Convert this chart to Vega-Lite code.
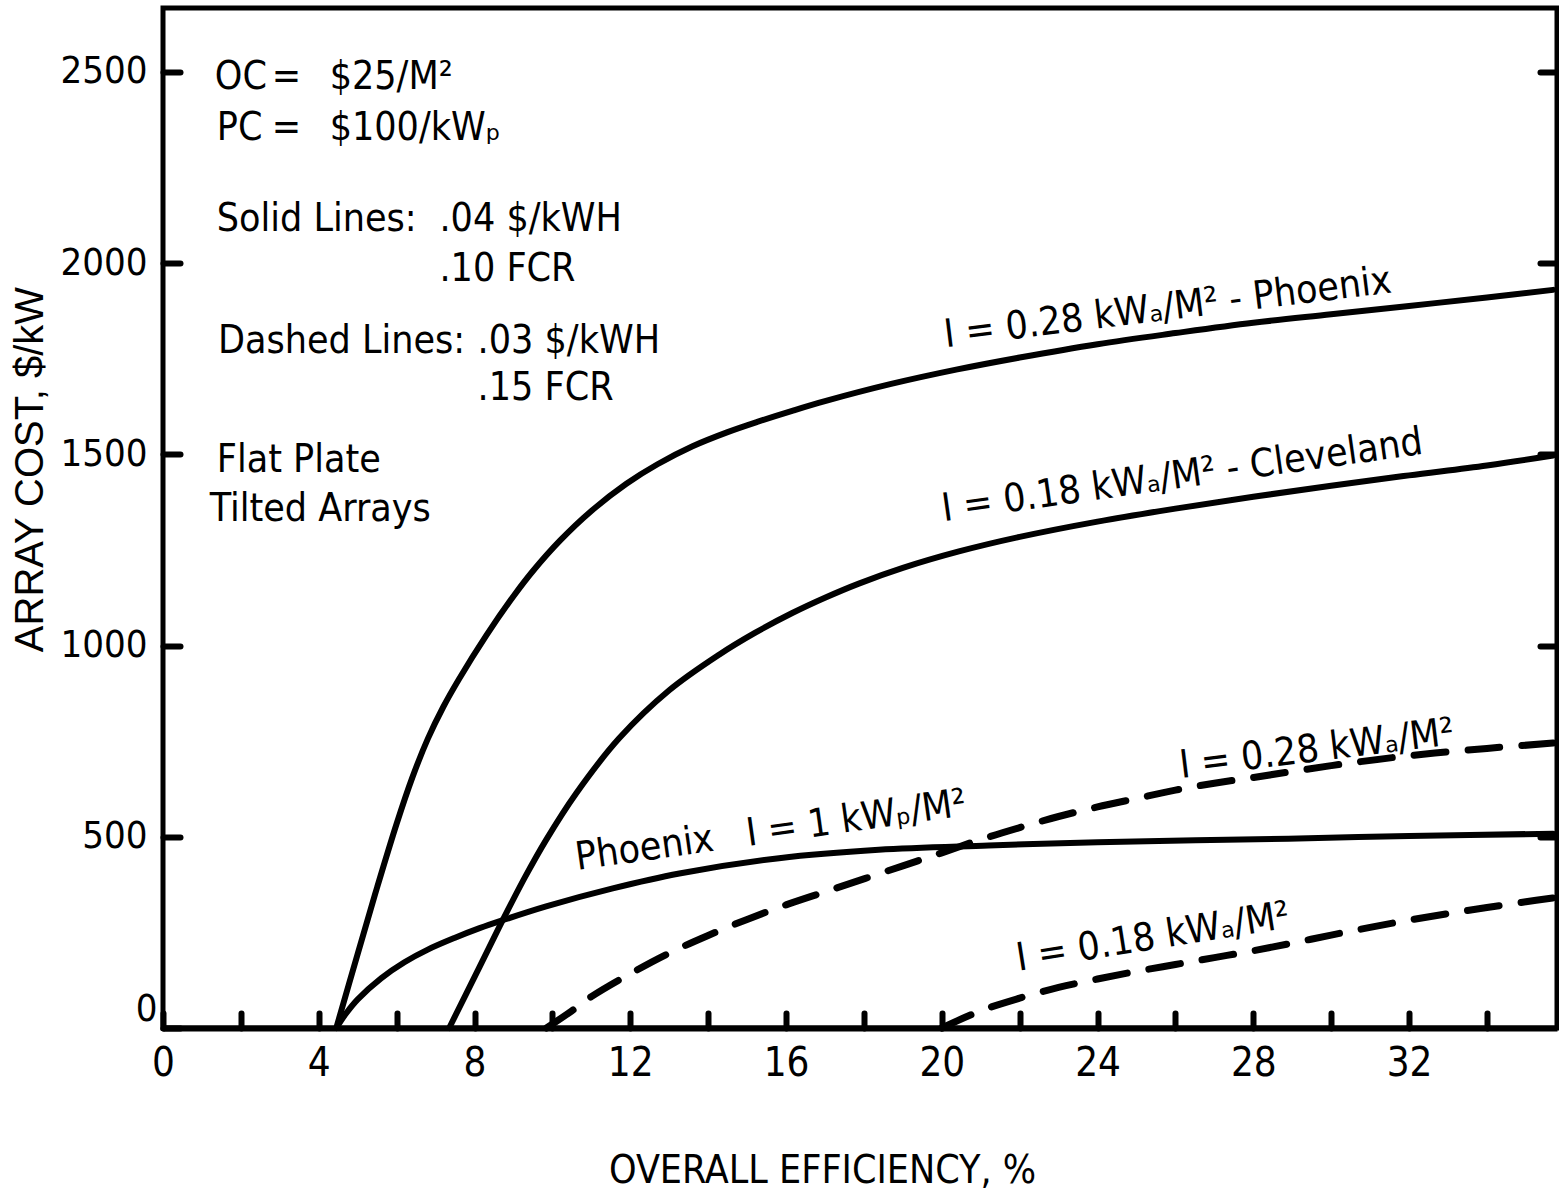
{
  "$schema": "https://vega.github.io/schema/vega-lite/v6.json",
  "width": 1394,
  "height": 1020,
  "autosize": {"type": "none"},
  "padding": {"left": 163, "top": 8, "right": 2, "bottom": 167},
  "background": "white",
  "config": {
    "view": {"stroke": "black", "strokeWidth": 5},
    "font": "DejaVu Sans Condensed, DejaVu Sans, sans-serif",
    "axis": {"grid": false, "labelColor": "black", "titleColor": "black", "tickColor": "black", "domainColor": "black"}
  },
  "datasets": {
    "curves": [
      {"series": "Phoenix 0.28", "rate": 0.04, "x": 4.45, "y": 0},
      {"series": "Phoenix 0.28", "rate": 0.04, "x": 5.0, "y": 194},
      {"series": "Phoenix 0.28", "rate": 0.04, "x": 5.5, "y": 368},
      {"series": "Phoenix 0.28", "rate": 0.04, "x": 6.0, "y": 534},
      {"series": "Phoenix 0.28", "rate": 0.04, "x": 6.4, "y": 654},
      {"series": "Phoenix 0.28", "rate": 0.04, "x": 6.8, "y": 756},
      {"series": "Phoenix 0.28", "rate": 0.04, "x": 7.2, "y": 840},
      {"series": "Phoenix 0.28", "rate": 0.04, "x": 7.6, "y": 912},
      {"series": "Phoenix 0.28", "rate": 0.04, "x": 8.3, "y": 1026},
      {"series": "Phoenix 0.28", "rate": 0.04, "x": 9.0, "y": 1129},
      {"series": "Phoenix 0.28", "rate": 0.04, "x": 9.5, "y": 1195},
      {"series": "Phoenix 0.28", "rate": 0.04, "x": 10.2, "y": 1275},
      {"series": "Phoenix 0.28", "rate": 0.04, "x": 11.0, "y": 1352},
      {"series": "Phoenix 0.28", "rate": 0.04, "x": 11.9, "y": 1423},
      {"series": "Phoenix 0.28", "rate": 0.04, "x": 12.7, "y": 1474},
      {"series": "Phoenix 0.28", "rate": 0.04, "x": 13.6, "y": 1521},
      {"series": "Phoenix 0.28", "rate": 0.04, "x": 14.5, "y": 1558},
      {"series": "Phoenix 0.28", "rate": 0.04, "x": 15.3, "y": 1586},
      {"series": "Phoenix 0.28", "rate": 0.04, "x": 16.2, "y": 1615},
      {"series": "Phoenix 0.28", "rate": 0.04, "x": 17.0, "y": 1639},
      {"series": "Phoenix 0.28", "rate": 0.04, "x": 18.7, "y": 1684},
      {"series": "Phoenix 0.28", "rate": 0.04, "x": 20.4, "y": 1722},
      {"series": "Phoenix 0.28", "rate": 0.04, "x": 22.0, "y": 1753},
      {"series": "Phoenix 0.28", "rate": 0.04, "x": 24.0, "y": 1788},
      {"series": "Phoenix 0.28", "rate": 0.04, "x": 26.0, "y": 1817},
      {"series": "Phoenix 0.28", "rate": 0.04, "x": 28.0, "y": 1844},
      {"series": "Phoenix 0.28", "rate": 0.04, "x": 30.0, "y": 1866},
      {"series": "Phoenix 0.28", "rate": 0.04, "x": 32.0, "y": 1888},
      {"series": "Phoenix 0.28", "rate": 0.04, "x": 34.0, "y": 1910},
      {"series": "Phoenix 0.28", "rate": 0.04, "x": 35.7, "y": 1930},

      {"series": "Cleveland 0.18", "rate": 0.04, "x": 7.35, "y": 0},
      {"series": "Cleveland 0.18", "rate": 0.04, "x": 8.13, "y": 160},
      {"series": "Cleveland 0.18", "rate": 0.04, "x": 8.73, "y": 283},
      {"series": "Cleveland 0.18", "rate": 0.04, "x": 9.3, "y": 395},
      {"series": "Cleveland 0.18", "rate": 0.04, "x": 9.84, "y": 492},
      {"series": "Cleveland 0.18", "rate": 0.04, "x": 10.6, "y": 612},
      {"series": "Cleveland 0.18", "rate": 0.04, "x": 11.72, "y": 758},
      {"series": "Cleveland 0.18", "rate": 0.04, "x": 13.0, "y": 883},
      {"series": "Cleveland 0.18", "rate": 0.04, "x": 14.28, "y": 976},
      {"series": "Cleveland 0.18", "rate": 0.04, "x": 15.2, "y": 1033},
      {"series": "Cleveland 0.18", "rate": 0.04, "x": 16.16, "y": 1085},
      {"series": "Cleveland 0.18", "rate": 0.04, "x": 17.0, "y": 1125},
      {"series": "Cleveland 0.18", "rate": 0.04, "x": 17.87, "y": 1162},
      {"series": "Cleveland 0.18", "rate": 0.04, "x": 19.0, "y": 1203},
      {"series": "Cleveland 0.18", "rate": 0.04, "x": 20.44, "y": 1246},
      {"series": "Cleveland 0.18", "rate": 0.04, "x": 22.0, "y": 1284},
      {"series": "Cleveland 0.18", "rate": 0.04, "x": 24.0, "y": 1324},
      {"series": "Cleveland 0.18", "rate": 0.04, "x": 26.0, "y": 1358},
      {"series": "Cleveland 0.18", "rate": 0.04, "x": 28.0, "y": 1389},
      {"series": "Cleveland 0.18", "rate": 0.04, "x": 30.0, "y": 1418},
      {"series": "Cleveland 0.18", "rate": 0.04, "x": 32.0, "y": 1445},
      {"series": "Cleveland 0.18", "rate": 0.04, "x": 34.0, "y": 1471},
      {"series": "Cleveland 0.18", "rate": 0.04, "x": 35.7, "y": 1497},

      {"series": "Phoenix 1 peak", "rate": 0.04, "x": 4.45, "y": 0},
      {"series": "Phoenix 1 peak", "rate": 0.04, "x": 4.7, "y": 38},
      {"series": "Phoenix 1 peak", "rate": 0.04, "x": 5.0, "y": 75},
      {"series": "Phoenix 1 peak", "rate": 0.04, "x": 5.6, "y": 130},
      {"series": "Phoenix 1 peak", "rate": 0.04, "x": 6.2, "y": 172},
      {"series": "Phoenix 1 peak", "rate": 0.04, "x": 6.8, "y": 205},
      {"series": "Phoenix 1 peak", "rate": 0.04, "x": 7.5, "y": 236},
      {"series": "Phoenix 1 peak", "rate": 0.04, "x": 8.13, "y": 261},
      {"series": "Phoenix 1 peak", "rate": 0.04, "x": 8.73, "y": 282},
      {"series": "Phoenix 1 peak", "rate": 0.04, "x": 9.84, "y": 318},
      {"series": "Phoenix 1 peak", "rate": 0.04, "x": 11.55, "y": 365},
      {"series": "Phoenix 1 peak", "rate": 0.04, "x": 13.26, "y": 404},
      {"series": "Phoenix 1 peak", "rate": 0.04, "x": 15.82, "y": 444},
      {"series": "Phoenix 1 peak", "rate": 0.04, "x": 18.38, "y": 466},
      {"series": "Phoenix 1 peak", "rate": 0.04, "x": 21.2, "y": 477},
      {"series": "Phoenix 1 peak", "rate": 0.04, "x": 24.0, "y": 486},
      {"series": "Phoenix 1 peak", "rate": 0.04, "x": 28.9, "y": 495},
      {"series": "Phoenix 1 peak", "rate": 0.04, "x": 32.0, "y": 502},
      {"series": "Phoenix 1 peak", "rate": 0.04, "x": 35.7, "y": 508},

      {"series": "Phoenix 0.28", "rate": 0.03, "x": 9.85, "y": 0},
      {"series": "Phoenix 0.28", "rate": 0.03, "x": 10.5, "y": 45},
      {"series": "Phoenix 0.28", "rate": 0.03, "x": 11.0, "y": 82},
      {"series": "Phoenix 0.28", "rate": 0.03, "x": 12.0, "y": 142},
      {"series": "Phoenix 0.28", "rate": 0.03, "x": 13.0, "y": 196},
      {"series": "Phoenix 0.28", "rate": 0.03, "x": 14.0, "y": 242},
      {"series": "Phoenix 0.28", "rate": 0.03, "x": 15.0, "y": 284},
      {"series": "Phoenix 0.28", "rate": 0.03, "x": 16.0, "y": 322},
      {"series": "Phoenix 0.28", "rate": 0.03, "x": 17.0, "y": 356},
      {"series": "Phoenix 0.28", "rate": 0.03, "x": 18.0, "y": 390},
      {"series": "Phoenix 0.28", "rate": 0.03, "x": 19.0, "y": 424},
      {"series": "Phoenix 0.28", "rate": 0.03, "x": 20.0, "y": 458},
      {"series": "Phoenix 0.28", "rate": 0.03, "x": 21.0, "y": 493},
      {"series": "Phoenix 0.28", "rate": 0.03, "x": 22.0, "y": 524},
      {"series": "Phoenix 0.28", "rate": 0.03, "x": 23.0, "y": 553},
      {"series": "Phoenix 0.28", "rate": 0.03, "x": 24.0, "y": 578},
      {"series": "Phoenix 0.28", "rate": 0.03, "x": 25.0, "y": 600},
      {"series": "Phoenix 0.28", "rate": 0.03, "x": 26.0, "y": 622},
      {"series": "Phoenix 0.28", "rate": 0.03, "x": 27.0, "y": 640},
      {"series": "Phoenix 0.28", "rate": 0.03, "x": 28.0, "y": 655},
      {"series": "Phoenix 0.28", "rate": 0.03, "x": 30.0, "y": 686},
      {"series": "Phoenix 0.28", "rate": 0.03, "x": 32.0, "y": 712},
      {"series": "Phoenix 0.28", "rate": 0.03, "x": 34.0, "y": 731},
      {"series": "Phoenix 0.28", "rate": 0.03, "x": 35.7, "y": 745},

      {"series": "Cleveland 0.18", "rate": 0.03, "x": 20.0, "y": 0},
      {"series": "Cleveland 0.18", "rate": 0.03, "x": 21.0, "y": 45},
      {"series": "Cleveland 0.18", "rate": 0.03, "x": 22.0, "y": 78},
      {"series": "Cleveland 0.18", "rate": 0.03, "x": 23.0, "y": 106},
      {"series": "Cleveland 0.18", "rate": 0.03, "x": 24.0, "y": 128},
      {"series": "Cleveland 0.18", "rate": 0.03, "x": 25.0, "y": 148},
      {"series": "Cleveland 0.18", "rate": 0.03, "x": 26.0, "y": 166},
      {"series": "Cleveland 0.18", "rate": 0.03, "x": 27.0, "y": 184},
      {"series": "Cleveland 0.18", "rate": 0.03, "x": 28.0, "y": 202},
      {"series": "Cleveland 0.18", "rate": 0.03, "x": 29.0, "y": 222},
      {"series": "Cleveland 0.18", "rate": 0.03, "x": 30.0, "y": 243},
      {"series": "Cleveland 0.18", "rate": 0.03, "x": 31.0, "y": 263},
      {"series": "Cleveland 0.18", "rate": 0.03, "x": 32.0, "y": 282},
      {"series": "Cleveland 0.18", "rate": 0.03, "x": 33.0, "y": 299},
      {"series": "Cleveland 0.18", "rate": 0.03, "x": 34.0, "y": 315},
      {"series": "Cleveland 0.18", "rate": 0.03, "x": 35.0, "y": 330},
      {"series": "Cleveland 0.18", "rate": 0.03, "x": 35.7, "y": 340}
    ],
    "notes": [
      {"id": "key", "text": "OC", "x": 1.33, "y": 2454},
      {"id": "key", "text": "=", "x": 2.79, "y": 2454},
      {"id": "key", "text": "$25/M²", "x": 4.28, "y": 2454},
      {"id": "key", "text": "PC", "x": 1.38, "y": 2323},
      {"id": "key", "text": "=", "x": 2.79, "y": 2323},
      {"id": "key", "text": "$100/kWₚ", "x": 4.28, "y": 2323},
      {"id": "key", "text": "Solid Lines:", "x": 1.38, "y": 2083},
      {"id": "key", "text": ".04 $/kWH", "x": 7.1, "y": 2083},
      {"id": "key", "text": ".10 FCR", "x": 7.1, "y": 1952},
      {"id": "key", "text": "Dashed Lines:", "x": 1.41, "y": 1766},
      {"id": "key", "text": ".03 $/kWH", "x": 8.08, "y": 1766},
      {"id": "key", "text": ".15 FCR", "x": 8.08, "y": 1643},
      {"id": "key", "text": "Flat Plate", "x": 1.38, "y": 1454},
      {"id": "key", "text": "Tilted Arrays", "x": 1.2, "y": 1326},
      {"id": "phx28", "text": "I = 0.28 kWₐ/M²  - Phoenix", "x": 20.1, "y": 1780},
      {"id": "cle18", "text": "I = 0.18 kWₐ/M²  - Cleveland", "x": 20.05, "y": 1325},
      {"id": "phx1", "text": "Phoenix\u00a0\u00a0\u00a0I = 1 kWₚ/M²", "x": 10.64, "y": 413},
      {"id": "d28", "text": "I = 0.28 kWₐ/M²", "x": 26.15, "y": 654},
      {"id": "d18", "text": "I = 0.18 kWₐ/M²", "x": 21.97, "y": 150}
    ]
  },
  "encoding": {
    "x": {
      "field": "x", "type": "quantitative",
      "scale": {"domain": [0, 35.8], "nice": false, "zero": false},
      "axis": {
        "values": [0, 2, 4, 6, 8, 10, 12, 14, 16, 18, 20, 22, 24, 26, 28, 30, 32, 34],
        "labelExpr": "datum.value % 4 === 0 ? datum.label : ''",
        "format": "d",
        "tickSize": -15, "tickWidth": 6, "tickCap": "round",
        "domainWidth": 6,
        "labelFontSize": 40, "labelPadding": 30, "labelFlush": false, "labelOverlap": false,
        "title": "OVERALL EFFICIENCY, %",
        "titleFontSize": 39, "titleFontWeight": "normal",
        "titleX": 659, "titleY": 154, "titleAlign": "center", "titleBaseline": "alphabetic"
      }
    }
  },
  "layer": [
    {
      "data": {"name": "curves"},
      "transform": [{"filter": "datum.rate === 0.04"}],
      "mark": {"type": "line", "stroke": "black", "strokeWidth": 6, "interpolate": "catmull-rom", "strokeCap": "round", "strokeJoin": "round"},
      "encoding": {
        "y": {
          "field": "y", "type": "quantitative",
          "scale": {"domain": [0, 2667], "nice": false},
          "axis": {
            "values": [0, 500, 1000, 1500, 2000, 2500],
            "format": "d",
            "tickSize": -17, "tickWidth": 6, "tickCap": "round",
            "domain": false,
            "labelFontSize": 38, "labelFlush": false,
            "labelPadding": {"condition": {"test": "datum.value === 0", "value": 23}, "value": 33},
            "labelBaseline": {"condition": {"test": "datum.value === 0", "value": "bottom"}, "value": "middle"},
            "title": "ARRAY COST, $/kW",
            "titleFont": "Liberation Sans, Arial, sans-serif",
            "titleFontSize": 40, "titleFontWeight": "normal",
            "titleAngle": -90, "titleX": -133, "titleY": 461, "titleAlign": "center", "titleBaseline": "middle"
          }
        },
        "detail": {"field": "series"}
      }
    },
    {
      "data": {"name": "curves"},
      "transform": [{"filter": "datum.rate === 0.03"}],
      "mark": {"type": "line", "stroke": "black", "strokeWidth": 7, "strokeDash": [32, 22], "interpolate": "catmull-rom", "strokeCap": "round"},
      "encoding": {
        "y": {
          "field": "y", "type": "quantitative",
          "scale": {"domain": [0, 2667], "nice": false},
          "axis": {
            "orient": "right",
            "values": [500, 1000, 1500, 2000, 2500],
            "tickSize": -17, "tickWidth": 6, "tickCap": "round",
            "domain": false, "labels": false, "title": null
          }
        },
        "detail": {"field": "series"}
      }
    },
    {
      "data": {"name": "notes"},
      "transform": [{"filter": "datum.id === 'key'"}],
      "mark": {"type": "text", "align": "left", "baseline": "alphabetic", "fontSize": 39, "color": "black"},
      "encoding": {
        "y": {"field": "y", "type": "quantitative", "scale": {"domain": [0, 2667], "nice": false}, "axis": null},
        "text": {"field": "text"}
      }
    },
    {
      "data": {"name": "notes"},
      "transform": [{"filter": "datum.id === 'phx28'"}],
      "mark": {"type": "text", "align": "left", "baseline": "alphabetic", "fontSize": 39, "angle": -7, "color": "black"},
      "encoding": {
        "y": {"field": "y", "type": "quantitative", "scale": {"domain": [0, 2667], "nice": false}, "axis": null},
        "text": {"field": "text"}
      }
    },
    {
      "data": {"name": "notes"},
      "transform": [{"filter": "datum.id === 'cle18'"}],
      "mark": {"type": "text", "align": "left", "baseline": "alphabetic", "fontSize": 39, "angle": -8, "color": "black"},
      "encoding": {
        "y": {"field": "y", "type": "quantitative", "scale": {"domain": [0, 2667], "nice": false}, "axis": null},
        "text": {"field": "text"}
      }
    },
    {
      "data": {"name": "notes"},
      "transform": [{"filter": "datum.id === 'phx1'"}],
      "mark": {"type": "text", "align": "left", "baseline": "alphabetic", "fontSize": 39, "angle": -8, "color": "black"},
      "encoding": {
        "y": {"field": "y", "type": "quantitative", "scale": {"domain": [0, 2667], "nice": false}, "axis": null},
        "text": {"field": "text"}
      }
    },
    {
      "data": {"name": "notes"},
      "transform": [{"filter": "datum.id === 'd28'"}],
      "mark": {"type": "text", "align": "left", "baseline": "alphabetic", "fontSize": 39, "angle": -7, "color": "black"},
      "encoding": {
        "y": {"field": "y", "type": "quantitative", "scale": {"domain": [0, 2667], "nice": false}, "axis": null},
        "text": {"field": "text"}
      }
    },
    {
      "data": {"name": "notes"},
      "transform": [{"filter": "datum.id === 'd18'"}],
      "mark": {"type": "text", "align": "left", "baseline": "alphabetic", "fontSize": 39, "angle": -9, "color": "black"},
      "encoding": {
        "y": {"field": "y", "type": "quantitative", "scale": {"domain": [0, 2667], "nice": false}, "axis": null},
        "text": {"field": "text"}
      }
    }
  ],
  "resolve": {"axis": {"y": "independent"}}
}
